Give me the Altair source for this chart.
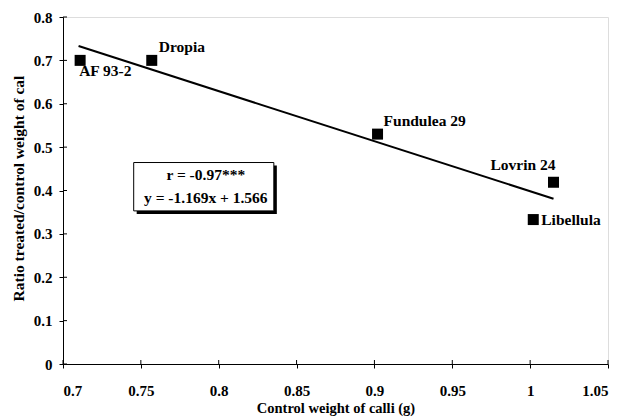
import altair as alt
import pandas as pd

# ---- data ----
cultivars = ["AF 93-2", "Dropia", "Fundulea 29", "Lovrin 24", "Libellula"]
control_weight = [0.711, 0.757, 0.902, 1.015, 1.002]
ratio = [0.700, 0.700, 0.530, 0.419, 0.333]

trend_x = [0.710, 1.015]
trend_y = [0.733, 0.381]

x_ticks = [0.7, 0.75, 0.8, 0.85, 0.9, 0.95, 1.0, 1.05]
y_ticks = [0, 0.1, 0.2, 0.3, 0.4, 0.5, 0.6, 0.7, 0.8]

stats_lines = ["r = -0.97***", "y = -1.169x + 1.566"]

# ---- styling constants ----
FONT = "Liberation Serif"
W, H = 545, 347
X_DOM = [0.7, 1.05]
Y_DOM = [0, 0.8]

# label placement (dx, dy, align) per cultivar
label_style = {
    "AF 93-2": (-1, 11, "left"),
    "Dropia": (7, -13, "left"),
    "Fundulea 29": (6, -13, "left"),
    "Lovrin 24": (2, -17, "right"),
    "Libellula": (8, 0, "left"),
}

# annotation box (data coordinates)
BOX = dict(x1=0.7454, x2=0.8354, y1=0.353, y2=0.4645)
STAT_X = 0.7917
STAT_Y = [0.436, 0.383]

pts = pd.DataFrame({"cultivar": cultivars, "x": control_weight, "y": ratio})
trend = pd.DataFrame({"x": trend_x, "y": trend_y})
xt = pd.DataFrame({"v": x_ticks})
yt = pd.DataFrame({"v": y_ticks})
box = pd.DataFrame([BOX])
stats = pd.DataFrame({"t": stats_lines, "x": [STAT_X] * 2, "y": STAT_Y})

xscale = alt.Scale(domain=X_DOM, nice=False, zero=False)
yscale = alt.Scale(domain=Y_DOM, nice=False, zero=False)

xaxis = alt.Axis(
    values=x_ticks, format="~g", grid=False, tickSize=4, tickColor="black",
    domainColor="black", labelFont=FONT, labelFontSize=15, labelFontWeight="bold",
    labelColor="black", labelPadding=15, title="Control weight of calli (g)",
    titleFont=FONT, titleFontSize=14.5, titleFontWeight="bold", titleColor="black",
    titlePadding=3,
)
yaxis = alt.Axis(
    values=y_ticks, format="~g", grid=False, tickSize=4, tickColor="black",
    domainColor="black", labelFont=FONT, labelFontSize=15, labelFontWeight="bold",
    labelColor="black", labelPadding=7, title="Ratio treated/control weight of cal",
    titleFont=FONT, titleFontSize=15.5, titleFontWeight="bold", titleColor="black",
    titleAngle=270, titleAlign="center", titleBaseline="middle",
    titleX=-45, titleY=171,
)

base_pts = alt.Chart(pts)

points = base_pts.mark_point(shape="square", filled=True, size=121, color="black", opacity=1).encode(
    x=alt.X("x:Q", scale=xscale, axis=xaxis),
    y=alt.Y("y:Q", scale=yscale, axis=yaxis),
)

line = alt.Chart(trend).mark_line(color="black", strokeWidth=2).encode(
    x=alt.X("x:Q", scale=xscale),
    y=alt.Y("y:Q", scale=yscale),
)

# inner halves of the crossing tick marks
xin = alt.Chart(xt).mark_rule(color="black", strokeWidth=1).encode(
    x=alt.X("v:Q", scale=xscale),
    y=alt.value(H),
    y2=alt.value(H - 4),
)
yin = alt.Chart(yt).mark_rule(color="black", strokeWidth=1).encode(
    y=alt.Y("v:Q", scale=yscale),
    x=alt.value(0),
    x2=alt.value(4),
)

labels = []
for name in cultivars:
    dx, dy, al = label_style[name]
    labels.append(
        base_pts.transform_filter(alt.datum.cultivar == name).mark_text(
            font=FONT, fontSize=15.5, fontWeight="bold", color="black",
            align=al, baseline="middle", dx=dx, dy=dy,
        ).encode(
            x=alt.X("x:Q", scale=xscale),
            y=alt.Y("y:Q", scale=yscale),
            text="cultivar:N",
        )
    )

shadow = alt.Chart(box).mark_rect(
    color="black", xOffset=3, x2Offset=3, yOffset=3, y2Offset=3
).encode(
    x=alt.X("x1:Q", scale=xscale), x2="x2:Q",
    y=alt.Y("y1:Q", scale=yscale), y2="y2:Q",
)
boxrect = alt.Chart(box).mark_rect(fill="white", stroke="black", strokeWidth=1).encode(
    x=alt.X("x1:Q", scale=xscale), x2="x2:Q",
    y=alt.Y("y1:Q", scale=yscale), y2="y2:Q",
)
stat_text = alt.Chart(stats).mark_text(
    font=FONT, fontSize=15.5, fontWeight="bold", color="black",
    align="center", baseline="middle",
).encode(
    x=alt.X("x:Q", scale=xscale),
    y=alt.Y("y:Q", scale=yscale),
    text="t:N",
)

chart = alt.layer(
    xin, yin, line, points, *labels, shadow, boxrect, stat_text
).properties(
    width=W, height=H,
    autosize=alt.AutoSizeParams(type="none"),
    padding={"left": 63, "top": 17, "right": 13, "bottom": 56},
).configure_view(stroke=None).configure(background="white")

chart.save("out.html", embed_options={"renderer": "svg", "actions": False})
